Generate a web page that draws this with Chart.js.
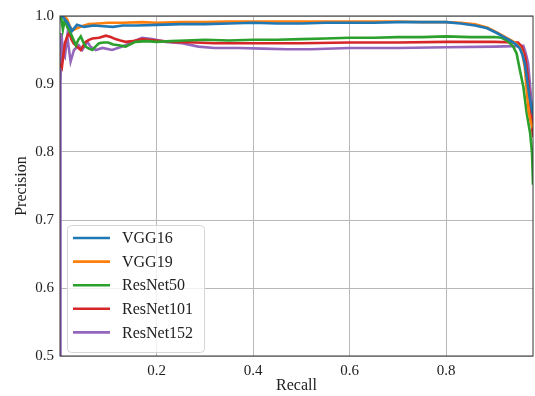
<!DOCTYPE html>
<html>
<head>
<meta charset="utf-8">
<script src="https://cdn.jsdelivr.net/npm/chart.js@4.4.1/dist/chart.umd.min.js"></script>
<style>
html,body{margin:0;padding:0;background:#fff;}
canvas{display:block;}
</style>
</head>
<body>
<canvas id="c" width="535" height="396"></canvas>
<script>
const seriesNames = ["VGG16", "VGG19", "ResNet50", "ResNet101", "ResNet152"];
const seriesColors = ["#1f77b4", "#ff7f0e", "#2ca02c", "#d62728", "#9467bd"];
const xTickLabels = [0.2, 0.4, 0.6, 0.8];
const yTickLabels = [0.5, 0.6, 0.7, 0.8, 0.9, 1.0];

const vgg16Recall = [0.002, 0.005, 0.01, 0.016, 0.025, 0.035, 0.05, 0.07, 0.09, 0.11, 0.13, 0.16, 0.2, 0.25, 0.3, 0.35, 0.4, 0.45, 0.5, 0.55, 0.6, 0.65, 0.7, 0.75, 0.8, 0.83, 0.86, 0.885, 0.905, 0.92, 0.935, 0.945, 0.953, 0.958, 0.963, 0.968, 0.973, 0.977, 0.98];
const vgg16Precision = [1.0, 1.0, 0.995, 0.99, 0.978, 0.987, 0.984, 0.986, 0.985, 0.984, 0.986, 0.986, 0.987, 0.988, 0.988, 0.989, 0.990, 0.989, 0.989, 0.990, 0.990, 0.990, 0.991, 0.991, 0.991, 0.989, 0.986, 0.982, 0.975, 0.969, 0.963, 0.958, 0.952, 0.943, 0.930, 0.905, 0.880, 0.865, 0.855];

const vgg19Recall = [0.002, 0.008, 0.015, 0.02, 0.026, 0.035, 0.045, 0.06, 0.08, 0.1, 0.13, 0.17, 0.2, 0.25, 0.3, 0.35, 0.4, 0.5, 0.6, 0.7, 0.75, 0.8, 0.83, 0.86, 0.885, 0.905, 0.92, 0.935, 0.945, 0.953, 0.958, 0.963, 0.967, 0.971, 0.975, 0.98];
const vgg19Precision = [1.0, 1.0, 0.995, 0.985, 0.979, 0.982, 0.985, 0.988, 0.989, 0.990, 0.990, 0.991, 0.990, 0.991, 0.991, 0.992, 0.992, 0.992, 0.992, 0.992, 0.991, 0.991, 0.990, 0.988, 0.983, 0.976, 0.970, 0.964, 0.960, 0.953, 0.945, 0.925, 0.890, 0.860, 0.845, 0.835];

const resnet50Recall = [0.002, 0.006, 0.01, 0.015, 0.022, 0.028, 0.033, 0.038, 0.043, 0.048, 0.053, 0.06, 0.067, 0.075, 0.081, 0.09, 0.1, 0.11, 0.122, 0.136, 0.156, 0.18, 0.2, 0.23, 0.26, 0.3, 0.35, 0.4, 0.45, 0.5, 0.55, 0.6, 0.65, 0.7, 0.75, 0.8, 0.85, 0.9, 0.915, 0.928, 0.939, 0.946, 0.953, 0.96, 0.967, 0.974, 0.978, 0.98];
const resnet50Precision = [1.0, 0.98, 0.995, 0.984, 0.975, 0.965, 0.957, 0.965, 0.970, 0.962, 0.955, 0.952, 0.950, 0.956, 0.960, 0.961, 0.961, 0.958, 0.957, 0.955, 0.962, 0.963, 0.962, 0.963, 0.964, 0.965, 0.964, 0.965, 0.965, 0.966, 0.967, 0.968, 0.968, 0.969, 0.969, 0.970, 0.969, 0.969, 0.968, 0.963, 0.955, 0.945, 0.920, 0.896, 0.857, 0.828, 0.798, 0.752];

const resnet101Recall = [0.001, 0.004, 0.01, 0.015, 0.019, 0.024, 0.028, 0.035, 0.043, 0.048, 0.053, 0.06, 0.067, 0.081, 0.095, 0.105, 0.115, 0.125, 0.136, 0.15, 0.17, 0.198, 0.233, 0.28, 0.32, 0.4, 0.5, 0.6, 0.7, 0.8, 0.9, 0.949, 0.957, 0.964, 0.97, 0.977, 0.98];
const resnet101Precision = [0.93, 0.925, 0.96, 0.97, 0.975, 0.965, 0.960, 0.955, 0.950, 0.956, 0.962, 0.965, 0.967, 0.968, 0.971, 0.969, 0.966, 0.964, 0.962, 0.963, 0.966, 0.964, 0.962, 0.961, 0.960, 0.960, 0.960, 0.961, 0.961, 0.962, 0.962, 0.961, 0.955, 0.940, 0.906, 0.847, 0.822];

const resnet152Recall = [0.0, 0.001, 0.003, 0.006, 0.01, 0.015, 0.022, 0.029, 0.039, 0.046, 0.057, 0.063, 0.074, 0.088, 0.108, 0.129, 0.15, 0.17, 0.191, 0.219, 0.253, 0.287, 0.32, 0.37, 0.42, 0.47, 0.52, 0.6, 0.7, 0.8, 0.9, 0.96, 0.965, 0.97, 0.977, 0.98];
const resnet152Precision = [0.45, 0.90, 0.975, 0.945, 0.940, 0.970, 0.933, 0.950, 0.957, 0.950, 0.962, 0.955, 0.950, 0.953, 0.950, 0.955, 0.962, 0.968, 0.966, 0.962, 0.960, 0.955, 0.953, 0.953, 0.952, 0.951, 0.951, 0.953, 0.953, 0.954, 0.955, 0.956, 0.945, 0.930, 0.872, 0.840];

const recallArrays = [vgg16Recall, vgg19Recall, resnet50Recall, resnet101Recall, resnet152Recall];
const precisionArrays = [vgg16Precision, vgg19Precision, resnet50Precision, resnet101Precision, resnet152Precision];

const FONT = '"Liberation Serif", "DejaVu Serif", serif';

const datasets = seriesNames.map((name, i) => ({
  label: name,
  data: recallArrays[i].map((r, j) => ({x: r, y: precisionArrays[i][j]})),
  borderColor: seriesColors[i],
  backgroundColor: seriesColors[i],
  borderWidth: 2.6,
  pointRadius: 0,
  tension: 0,
  fill: false
}));

const framePlugin = {
  id: 'frame',
  afterDatasetsDraw(chart) {
    const {ctx, chartArea: a} = chart;
    ctx.save();
    ctx.strokeStyle = '#333';
    ctx.lineWidth = 1;
    ctx.strokeRect(a.left, a.top, a.right - a.left, a.bottom - a.top);
    ctx.restore();
  }
};

const legendPlugin = {
  id: 'inlegend',
  afterDraw(chart) {
    const ctx = chart.ctx;
    const bx = 67.5, by = 225.5, bw = 137, bh = 127, r = 4;
    ctx.save();
    ctx.beginPath();
    ctx.moveTo(bx + r, by);
    ctx.lineTo(bx + bw - r, by);
    ctx.quadraticCurveTo(bx + bw, by, bx + bw, by + r);
    ctx.lineTo(bx + bw, by + bh - r);
    ctx.quadraticCurveTo(bx + bw, by + bh, bx + bw - r, by + bh);
    ctx.lineTo(bx + r, by + bh);
    ctx.quadraticCurveTo(bx, by + bh, bx, by + bh - r);
    ctx.lineTo(bx, by + r);
    ctx.quadraticCurveTo(bx, by, bx + r, by);
    ctx.closePath();
    ctx.fillStyle = 'rgba(255,255,255,0.8)';
    ctx.fill();
    ctx.strokeStyle = '#d6d6d6';
    ctx.lineWidth = 1;
    ctx.stroke();
    ctx.font = '16px ' + FONT;
    ctx.textBaseline = 'middle';
    ctx.textAlign = 'left';
    chart.data.datasets.forEach((ds, i) => {
      const y = 238 + i * 23.6;
      ctx.strokeStyle = ds.borderColor;
      ctx.lineWidth = 2.6;
      ctx.beginPath();
      ctx.moveTo(73, y);
      ctx.lineTo(110, y);
      ctx.stroke();
      ctx.fillStyle = '#222';
      ctx.fillText(ds.label, 122, y + 1);
    });
    ctx.restore();
  }
};

new Chart(document.getElementById('c'), {
  type: 'line',
  data: {datasets},
  options: {
    responsive: false,
    animation: false,
    layout: {padding: {left: 0, right: 2, top: 16, bottom: 0}},
    plugins: {legend: {display: false}, tooltip: {enabled: false}},
    scales: {
      x: {
        type: 'linear',
        min: 0,
        max: 0.98,
        afterFit(s) { s.height = 40; },
        afterBuildTicks(s) { s.ticks = xTickLabels.map(v => ({value: v})); },
        grid: {color: '#b8b8b8', lineWidth: 1, drawTicks: false},
        border: {display: false},
        ticks: {
          padding: 6,
          color: '#222',
          font: {family: FONT, size: 15},
          maxRotation: 0,
          callback: v => Number(v).toFixed(1)
        },
        title: {display: true, text: 'Recall', color: '#222', font: {family: FONT, size: 16, lineHeight: 1.0}, padding: {top: 0, bottom: 2}}
      },
      y: {
        type: 'linear',
        min: 0.5,
        max: 1.0,
        afterFit(s) { s.width = 60; },
        afterBuildTicks(s) { s.ticks = yTickLabels.map(v => ({value: v})); },
        grid: {color: '#b8b8b8', lineWidth: 1, drawTicks: false},
        border: {display: false},
        ticks: {
          padding: 6,
          color: '#222',
          font: {family: FONT, size: 15},
          callback: v => Number(v).toFixed(1)
        },
        title: {display: true, text: 'Precision', color: '#222', font: {family: FONT, size: 16}, padding: {top: 12, bottom: 0}}
      }
    }
  },
  plugins: [framePlugin, legendPlugin]
});
</script>
</body>
</html>
